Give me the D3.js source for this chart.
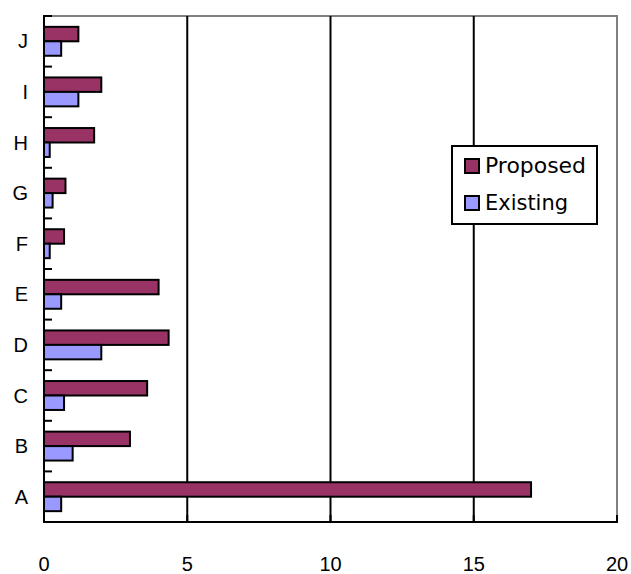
<!DOCTYPE html>
<html>
<head>
<meta charset="utf-8">
<script src="https://cdn.jsdelivr.net/npm/d3@7"></script>
<style>
  html, body { margin: 0; padding: 0; background: #fff; }
  svg { display: block; }
  text { font-family: "Liberation Sans", Arial, sans-serif; fill: #000; }
  .legend-label { font-family: "DejaVu Sans", sans-serif; }
</style>
</head>
<body>
<div id="chart"></div>
<script>
// Categories, listed bottom to top
const categories = ["A", "B", "C", "D", "E", "F", "G", "H", "I", "J"];
const seriesNames = ["Proposed", "Existing"];
const proposed = [17.0, 3.0, 3.6, 4.35, 4.0, 0.7, 0.75, 1.75, 2.0, 1.2];
const existing = [0.6, 1.0, 0.7, 2.0, 0.6, 0.2, 0.3, 0.2, 1.2, 0.6];
const xTicks = [0, 5, 10, 15, 20];
const seriesColors = ["#993366", "#9999FF"];

const W = 631, H = 574;
const plot = { left: 44, right: 617, top: 16, bottom: 522 };

const svg = d3.select("#chart").append("svg")
  .attr("width", W).attr("height", H);

const x = d3.scaleLinear().domain([0, 20]).range([plot.left, plot.right]);
const y = d3.scaleBand().domain(categories.slice().reverse())
  .range([plot.top, plot.bottom]);
// two bars per category, gap width 150% of a bar
const inner = d3.scaleBand().domain(seriesNames)
  .range([0, y.bandwidth()]).paddingInner(0).paddingOuter(0.75);

const values = { Proposed: proposed, Existing: existing };

// plot frame: grey top and right edges
svg.append("path")
  .attr("d", `M${plot.left},${plot.top}H${plot.right}V${plot.bottom}`)
  .attr("fill", "none").attr("stroke", "#808080").attr("stroke-width", 2);

// vertical gridlines
svg.append("g").selectAll("line")
  .data(xTicks.filter(t => t > 0 && t < 20))
  .join("line")
  .attr("x1", d => x(d)).attr("x2", d => x(d))
  .attr("y1", plot.top).attr("y2", plot.bottom)
  .attr("stroke", "#000").attr("stroke-width", 2);

// bars
const rows = categories.map((c, i) => ({ c, i }));
seriesNames.forEach((s, si) => {
  svg.append("g").selectAll("rect")
    .data(rows)
    .join("rect")
    .attr("x", x(0))
    .attr("y", d => y(d.c) + inner(s))
    .attr("width", d => x(values[s][d.i]) - x(0))
    .attr("height", inner.bandwidth())
    .attr("fill", seriesColors[si])
    .attr("stroke", "#000").attr("stroke-width", 2);
});

// y axis with inward ticks at the category boundaries
const yAxis = svg.append("g");
yAxis.append("line")
  .attr("x1", plot.left).attr("x2", plot.left)
  .attr("y1", plot.top - 1).attr("y2", plot.bottom + 1)
  .attr("stroke", "#000").attr("stroke-width", 2);
const bounds = d3.range(categories.length + 1).map(i => plot.top + i * y.step());
yAxis.selectAll("line.tick")
  .data(bounds)
  .join("line").attr("class", "tick")
  .attr("x1", plot.left).attr("x2", plot.left + 8)
  .attr("y1", d => d).attr("y2", d => d)
  .attr("stroke", "#000").attr("stroke-width", 2);
yAxis.selectAll("text")
  .data(categories)
  .join("text")
  .attr("x", 28)
  .attr("y", d => y(d) + y.bandwidth() / 2)
  .attr("text-anchor", "end")
  .attr("dominant-baseline", "central")
  .attr("font-size", 20)
  .text(d => d);

// x axis
const xAxis = svg.append("g");
xAxis.append("line")
  .attr("x1", plot.left - 1).attr("x2", plot.right + 1)
  .attr("y1", plot.bottom).attr("y2", plot.bottom)
  .attr("stroke", "#000").attr("stroke-width", 2);
xAxis.selectAll("line.tick")
  .data(xTicks)
  .join("line").attr("class", "tick")
  .attr("x1", d => x(d)).attr("x2", d => x(d))
  .attr("y1", plot.bottom).attr("y2", plot.bottom - 7)
  .attr("stroke", "#000").attr("stroke-width", 2);
xAxis.selectAll("text")
  .data(xTicks)
  .join("text")
  .attr("x", d => x(d))
  .attr("y", 564)
  .attr("text-anchor", "middle")
  .attr("dominant-baseline", "central")
  .attr("font-size", 20)
  .text(d => d);

// legend
const legend = svg.append("g");
legend.append("rect")
  .attr("x", 452).attr("y", 146).attr("width", 145).attr("height", 78)
  .attr("fill", "#fff").attr("stroke", "#000").attr("stroke-width", 2);
const legendWidths = [101, 83];
seriesNames.forEach((s, i) => {
  const cy = 166 + i * 37;
  legend.append("rect")
    .attr("x", 465).attr("y", cy - 7).attr("width", 14).attr("height", 14)
    .attr("fill", seriesColors[i]).attr("stroke", "#000").attr("stroke-width", 2);
  legend.append("text")
    .attr("class", "legend-label")
    .attr("x", 485).attr("y", cy)
    .attr("dominant-baseline", "central")
    .attr("font-size", 21)
    .attr("textLength", legendWidths[i])
    .attr("lengthAdjust", "spacingAndGlyphs")
    .text(s);
});
</script>
</body>
</html>
